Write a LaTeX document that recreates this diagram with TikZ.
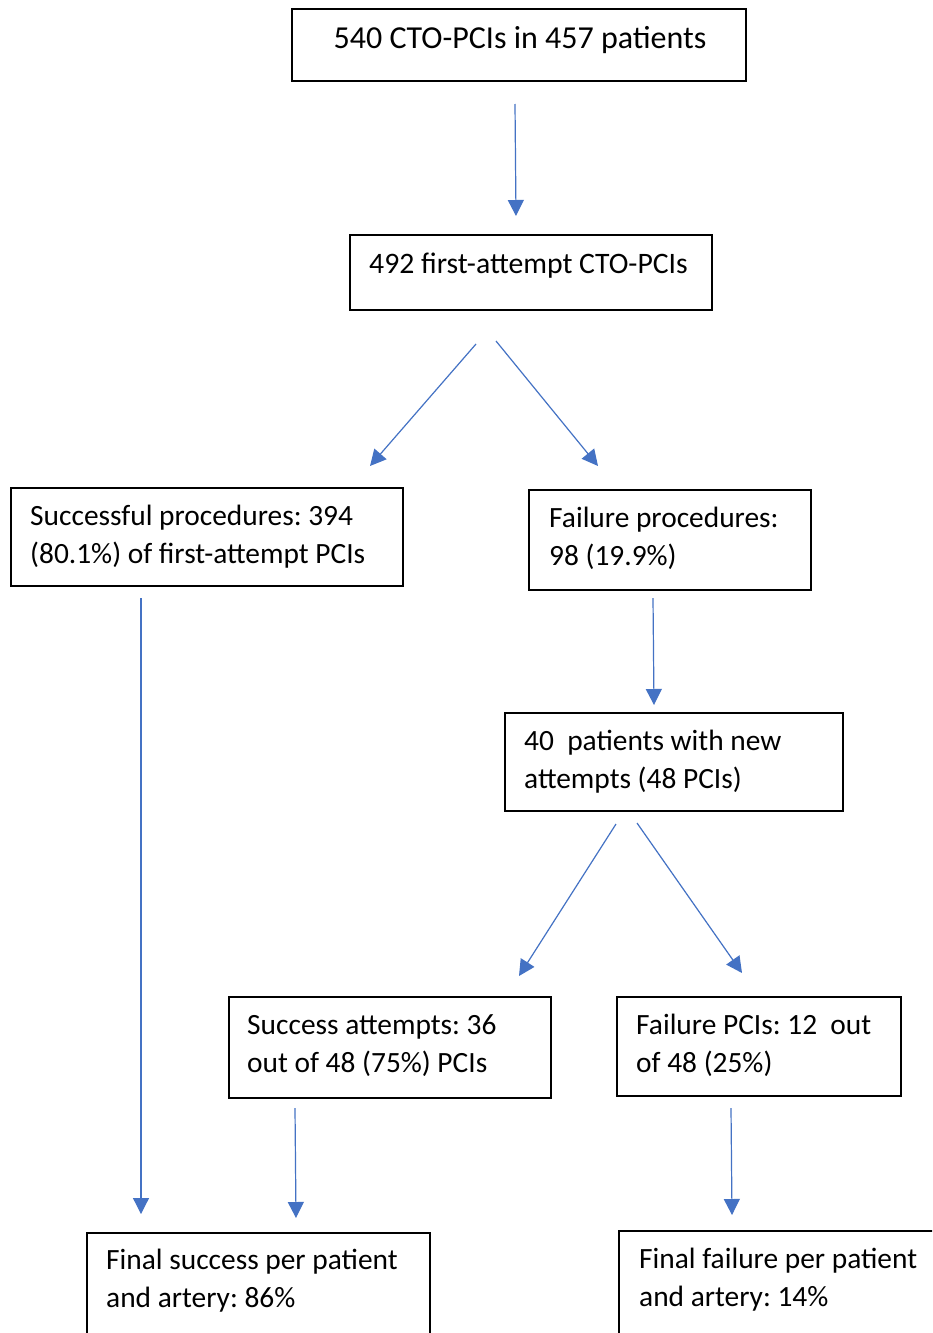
\documentclass[tikz,border=0pt]{standalone}
\usepackage{fontspec}
\setmainfont{Carlito}
\usetikzlibrary{arrows.meta}
\definecolor{arrowblue}{HTML}{4472C4}
\begin{document}
\frenchspacing
\begin{tikzpicture}[x=1pt,y=-1pt,
  box/.style={draw, line width=1.6pt, anchor=north west, inner sep=0pt},
  txt/.style={anchor=base west, inner sep=0pt, align=left, font=\fontsize{29.4}{38}\selectfont},
  conn/.style={arrowblue, line width=1.2pt, -{Triangle[width=16pt,length=16pt]}}]
\useasboundingbox (0,0) rectangle (932,1333);
\clip (0,0) rectangle (932,1333);
\fill[white] (0,0) rectangle (932,1333);
% boxes
\node[box, minimum width=454pt, minimum height=72pt] (n1) at (291,8) {};
\node[box, minimum width=362pt, minimum height=75pt] (n2) at (349,234) {};
\node[box, minimum width=392pt, minimum height=98pt] (n3) at (10,487) {};
\node[box, minimum width=282pt, minimum height=100pt] (n4) at (528,489) {};
\node[box, minimum width=338pt, minimum height=98pt] (n5) at (504,712) {};
\node[box, minimum width=322pt, minimum height=101pt] (n6) at (228,996) {};
\node[box, minimum width=284pt, minimum height=99pt] (n7) at (616,996) {};
\node[box, minimum width=343pt, minimum height=110pt] (n8) at (86,1232) {};
\node[box, minimum width=330pt, minimum height=110pt] (n9) at (618,1230) {};
% texts (base anchor = baseline of last line)
\node[txt, anchor=base, font=\fontsize{32}{38}\selectfont] (t1) at (520,48) {540 CTO-PCIs in 457 patients};
\node[txt, font=\fontsize{29.7}{38}\selectfont] (t2) at (369,273) {492 first-attempt CTO-PCIs};
\node[txt] (t3) at (30,563) {Successful procedures: 394\\(80.1\%) of first-attempt PCIs};
\node[txt] (t4) at (549,565) {Failure procedures:\\98 (19.9\%)};
\node[txt] (t5) at (524,788) {40\ \ patients with new\\attempts (48 PCIs)};
\node[txt] (t6) at (247,1072) {Success attempts: 36\\out of 48 (75\%) PCIs};
\node[txt] (t7) at (636,1072) {Failure PCIs: 12\ \ out\\of 48 (25\%)};
\node[txt] (t8) at (106,1307) {Final success per patient\\and artery: 86\%};
\node[txt] (t9) at (639,1306) {Final failure per patient\\and artery: 14\%};
% connectors
\coordinate (a1s) at (515,104); \coordinate (a1e) at (516,216);
\coordinate (b1s) at (476,344); \coordinate (b1e) at (370,466);
\coordinate (b2s) at (496,341); \coordinate (b2e) at (598,466);
\coordinate (c1s) at (141,598); \coordinate (c1e) at (141,1214);
\coordinate (d1s) at (653,598); \coordinate (d1e) at (654,705);
\coordinate (e1s) at (616,824); \coordinate (e1e) at (519,976);
\coordinate (e2s) at (637,823); \coordinate (e2e) at (742,973);
\coordinate (f1s) at (295,1108); \coordinate (f1e) at (296,1218);
\coordinate (g1s) at (731,1108); \coordinate (g1e) at (732,1215);
\draw[conn] (a1s) -- (a1e);
\draw[conn] (b1s) -- (b1e);
\draw[conn] (b2s) -- (b2e);
\draw[conn] (c1s) -- (c1e);
\draw[conn] (d1s) -- (d1e);
\draw[conn] (e1s) -- (e1e);
\draw[conn] (e2s) -- (e2e);
\draw[conn] (f1s) -- (f1e);
\draw[conn] (g1s) -- (g1e);
\end{tikzpicture}
\end{document}
